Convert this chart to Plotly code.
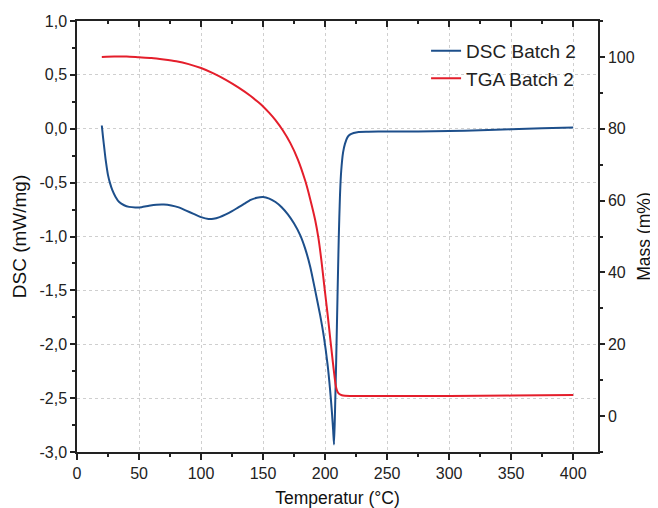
import plotly.graph_objects as go

# ---------------- data ----------------
dsc_temp = [20, 21, 22, 23, 24, 25, 26.5, 28.5, 31, 34, 38, 42, 47, 52, 58, 64, 70, 76, 82, 88,
            94, 100, 106, 110, 115, 120, 125, 130, 135, 140, 145, 150, 155, 160, 165, 170, 175,
            180, 184, 188, 192, 196, 199, 202, 204, 205.5, 206.5, 207.2, 208, 209, 210, 211, 212,
            213, 214.5, 216, 218, 220, 223, 227, 235, 250, 275, 300, 325, 350, 375, 400]
dsc_value = [0.03, -0.08, -0.18, -0.28, -0.36, -0.43, -0.50, -0.57, -0.63, -0.68, -0.71, -0.725,
             -0.73, -0.728, -0.715, -0.705, -0.703, -0.712, -0.73, -0.76, -0.79, -0.82, -0.838,
             -0.836, -0.82, -0.795, -0.765, -0.73, -0.695, -0.66, -0.64, -0.633, -0.648, -0.68,
             -0.728, -0.795, -0.88, -0.99, -1.115, -1.28, -1.50, -1.73, -1.93, -2.19, -2.42, -2.63,
             -2.80, -2.93, -2.62, -2.12, -1.56, -1.02, -0.62, -0.39, -0.22, -0.14, -0.08, -0.055,
             -0.04, -0.03, -0.028, -0.025, -0.025, -0.022, -0.015, -0.005, 0.005, 0.012]

tga_temp = [20, 30, 40, 50, 60, 70, 80, 90, 100, 110, 120, 130, 140, 145, 150, 155, 160, 166, 172,
            178, 184, 188, 192, 194.6, 197, 199.4, 202, 204.3, 206.3, 207.5, 208.3, 209, 210,
            211.5, 213.5, 216, 220, 250, 300, 350, 400]
tga_mass = [100.0, 100.1, 100.1, 99.9, 99.7, 99.3, 98.8, 98.0, 96.9, 95.4, 93.6, 91.5, 89.1, 87.7,
            86.2, 84.4, 82.4, 79.5, 76.0, 71.5, 65.5, 60.4, 54.6, 49.6, 43.4, 36.1, 28.4, 21.1,
            14.9, 11.3, 9.1, 7.8, 6.8, 6.15, 5.8, 5.65, 5.6, 5.6, 5.6, 5.7, 5.9]

x_ticks = [0, 50, 100, 150, 200, 250, 300, 350, 400]
dsc_ticks = [1.0, 0.5, 0.0, -0.5, -1.0, -1.5, -2.0, -2.5, -3.0]
mass_ticks = [0, 20, 40, 60, 80, 100]

series_names = ["DSC Batch 2", "TGA Batch 2"]
x_title = "Temperatur (°C)"
dsc_title = "DSC (mW/mg)"
mass_title = "Mass (m%)"

dsc_ticktext = [f"{v:.1f}".replace(".", ",") for v in dsc_ticks]

# ---------------- style ----------------
BLUE = "#1d4f8b"
RED = "#e41e2b"
AX = "#222222"
GRID = "#cfcfcf"
FONT = "Arial, Liberation Sans, sans-serif"

fig = go.Figure()
fig.add_trace(go.Scatter(x=dsc_temp, y=dsc_value, mode="lines", name=series_names[0],
                         line=dict(color=BLUE, width=2, shape="spline", smoothing=0.6),
                         xaxis="x", yaxis="y"))
fig.add_trace(go.Scatter(x=tga_temp, y=tga_mass, mode="lines", name=series_names[1],
                         line=dict(color=RED, width=2, shape="spline", smoothing=0.6),
                         xaxis="x", yaxis="y2"))
# invisible helper trace so the top frame axis is drawn
fig.add_trace(go.Scatter(x=[None], y=[None], mode="lines", showlegend=False,
                         hoverinfo="skip", xaxis="x2", yaxis="y"))

tickfont = dict(family=FONT, size=16, color=AX)

fig.update_layout(
    width=650, height=500,
    margin=dict(l=69, r=60, t=13, b=56),
    paper_bgcolor="white", plot_bgcolor="white",
    separators=",.",
    font=dict(family=FONT, color=AX),
    showlegend=True,
    legend=dict(x=0.670, y=0.975, xanchor="left", yanchor="top",
                bgcolor="rgba(0,0,0,0)", font=dict(family=FONT, size=19, color=AX),
                tracegroupgap=0),
    xaxis=dict(range=[0, 420], tickmode="array", tickvals=x_ticks,
               ticks="outside", ticklen=6, tickwidth=1.5, tickcolor=AX,
               minor=dict(tickmode="linear", tick0=0, dtick=25, ticks="outside",
                          ticklen=3, tickwidth=1.5, tickcolor=AX, showgrid=False),
               showline=True, linecolor=AX, linewidth=1.5,
               showgrid=True, gridcolor=GRID, griddash="dot", gridwidth=1,
               zeroline=False, tickfont=tickfont,
               title=dict(text=x_title, font=dict(family=FONT, size=17.5, color="#111111"),
                          standoff=16),
               automargin=False, anchor="y"),
    xaxis2=dict(range=[0, 420], overlaying="x", side="top", anchor="y",
                tickmode="array", tickvals=x_ticks, showticklabels=False,
                ticks="inside", ticklen=6, tickwidth=1.5, tickcolor=AX,
                minor=dict(tickmode="linear", tick0=0, dtick=25, ticks="inside",
                           ticklen=3, tickwidth=1.5, tickcolor=AX, showgrid=False),
                showline=True, linecolor=AX, linewidth=1.5,
                showgrid=False, zeroline=False),
    yaxis=dict(range=[-3.0, 1.0], tickmode="array", tickvals=dsc_ticks, ticktext=dsc_ticktext,
               ticks="outside", ticklen=5, tickwidth=1.5, tickcolor=AX,
               minor=dict(tickmode="linear", tick0=0, dtick=0.25, ticks="outside",
                          ticklen=3, tickwidth=1.5, tickcolor=AX, showgrid=False),
               showline=True, linecolor=AX, linewidth=1.5,
               showgrid=True, gridcolor=GRID, griddash="dot", gridwidth=1,
               zeroline=False, tickfont=tickfont,
               title=dict(text=dsc_title, font=dict(family=FONT, size=19, color="#111111"),
                          standoff=8),
               automargin=False, anchor="x"),
    yaxis2=dict(range=[-10, 110], overlaying="y", side="right", anchor="x",
                tickmode="array", tickvals=mass_ticks,
                ticks="outside", ticklen=5, tickwidth=1.5, tickcolor=AX,
                minor=dict(tickmode="linear", tick0=0, dtick=10, ticks="outside",
                           ticklen=3, tickwidth=1.5, tickcolor=AX, showgrid=False),
                showline=True, linecolor=AX, linewidth=1.5,
                showgrid=False, zeroline=False, tickfont=tickfont,
                title=dict(text=mass_title, font=dict(family=FONT, size=17.5, color="#111111"),
                           standoff=4),
                automargin=False),
)

fig.write_html("out.html")
